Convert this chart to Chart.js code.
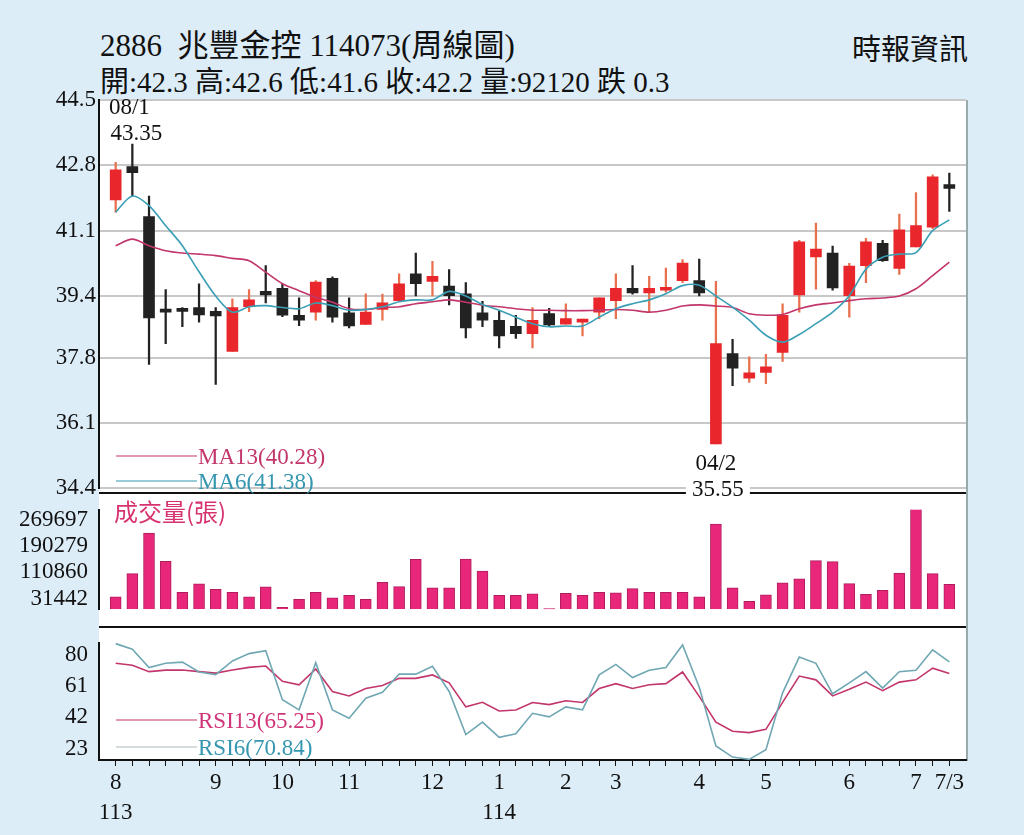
<!DOCTYPE html>
<html><head><meta charset="utf-8">
<script src="https://cdn.jsdelivr.net/npm/chart.js@4.4.1/dist/chart.umd.min.js"></script>
<style>
html,body{margin:0;padding:0;width:1024px;height:835px;overflow:hidden;background:#dcedf8;font-family:"Liberation Serif","Noto Sans CJK TC",serif;}
.t{position:absolute;color:#111;white-space:nowrap;}
canvas{position:absolute;left:0;}
#plotbg{position:absolute;left:99px;top:100px;width:867px;height:660px;background:#fff;border-right:2px solid #9aa;border-top:1px solid #bbb;}
</style></head><body>
<div class="t" style="left:100px;top:20px;font-size:31px;">2886&nbsp; 兆豐金控 114073(周線圖)</div>
<div class="t" style="left:100px;top:58px;font-size:29px;">開:42.3 高:42.6 低:41.6 收:42.2 量:92120 跌 0.3</div>
<div class="t" style="right:56px;top:26px;font-size:29px;">時報資訊</div>
<div id="plotbg"></div>
<canvas id="cv" width="1024" height="133" style="top:493px"></canvas>
<canvas id="cr" width="1024" height="209" style="top:626px"></canvas>
<canvas id="cp" width="1024" height="505" style="top:0"></canvas>
<script>
const opens  =[41.9,42.77,41.47,39.05,39.08,39.1,39.0,37.96,39.12,39.52,39.6,38.9,38.98,39.86,38.96,38.66,39.05,39.28,39.98,39.78,39.66,39.46,38.96,38.77,38.61,38.42,38.94,38.67,38.72,38.98,39.28,39.6,39.48,39.55,39.8,39.8,35.55,37.9,37.26,37.41,37.93,39.43,40.42,40.52,39.41,40.19,40.77,40.12,40.68,41.19,42.3];
const closes =[42.68,42.61,38.83,38.98,39.0,38.91,38.88,39.1,39.3,39.43,38.9,38.77,39.76,38.85,38.62,38.98,39.22,39.72,39.72,39.91,39.41,38.57,38.77,38.36,38.42,38.77,38.65,38.81,38.77,39.35,39.6,39.48,39.6,39.59,40.26,39.48,38.16,37.52,37.4,37.56,38.9,40.81,40.62,39.61,40.18,40.81,40.32,41.12,41.23,42.5,42.2];
const highs  =[42.88,43.35,42.0,39.57,39.1,39.72,39.1,39.33,39.57,40.19,39.72,39.35,39.8,39.9,39.35,39.46,39.45,39.98,40.52,40.3,40.09,39.75,39.26,39.0,38.9,39.1,39.08,39.2,38.8,39.35,39.98,40.19,39.91,40.13,40.35,40.36,39.78,38.27,37.82,37.88,39.2,40.85,41.3,40.7,40.25,40.9,40.85,41.53,42.09,42.55,42.6];
const lows   =[41.58,42.0,37.62,38.16,38.6,38.72,37.1,37.96,38.99,39.22,38.86,38.63,38.77,38.72,38.57,38.66,38.77,39.25,39.4,39.4,39.17,38.31,38.6,38.05,38.3,38.05,38.6,38.67,38.36,38.81,38.81,39.45,38.98,39.5,39.75,39.4,35.55,37.07,37.15,37.12,37.7,38.98,39.58,39.55,38.85,39.75,40.3,39.96,40.68,41.15,41.6];
const ma6  =[41.58,42.0,41.75,41.23,40.71,40.03,39.4,38.98,39.12,39.15,39.1,39.07,39.22,39.15,39.03,39.05,39.12,39.25,39.3,39.3,39.52,39.4,39.18,39.03,38.85,38.68,38.6,38.62,38.62,38.85,39.07,39.2,39.3,39.46,39.67,39.68,39.4,39.11,38.77,38.38,38.2,38.4,38.68,38.98,39.41,40.1,40.41,40.49,40.53,41.1,41.38];
const ma13 =[40.71,40.88,40.71,40.58,40.52,40.49,40.45,40.38,40.32,40.02,39.72,39.54,39.37,39.24,39.07,39.05,39.1,39.12,39.2,39.25,39.3,39.24,39.16,39.12,39.07,39.03,39.03,39.02,39.02,39.03,39.05,39.03,38.98,39.03,39.14,39.17,39.14,39.1,38.94,38.9,38.92,39.07,39.17,39.22,39.28,39.33,39.35,39.4,39.59,39.93,40.28];
const volumes=[37000,107000,229000,144000,51000,76000,60000,51000,37000,67000,6000,30000,51000,34000,42000,30000,81000,68000,150000,64000,64000,151000,115000,42000,42000,46000,2000,48000,42000,51000,49000,62000,51000,51000,51000,37000,256000,64000,24000,43000,79000,91000,146000,143000,77000,45000,57000,109000,305000,107000,75000];
const rsi13=[75.0,73.8,69.9,70.8,70.9,69.9,69.0,70.9,72.5,73.3,64.0,61.9,71.5,57.8,55.1,59.6,61.4,65.8,65.8,67.9,63.1,48.4,51.2,45.9,46.5,51.1,49.8,52.1,51.1,59.6,62.6,59.6,61.9,62.6,69.7,54.8,39.1,33.5,32.7,34.7,51.2,67.2,64.9,55.1,59.1,63.5,58.3,63.5,64.9,72.0,68.8];
const rsi6 =[87.0,83.6,72.4,75.0,75.7,69.7,68.1,76.4,80.9,82.7,52.8,46.6,75.4,46.6,41.5,53.7,57.3,68.4,68.4,73.2,57.8,31.5,39.1,29.8,32.0,44.5,42.3,48.4,46.6,67.9,74.3,66.3,70.8,72.4,86.2,60.4,24.6,17.8,16.4,22.3,57.0,78.8,75.0,56.4,63.1,69.9,59.9,69.9,70.8,83.2,75.9];
const priceTicks=[34.4,36.1,37.8,39.4,41.1,42.8,44.5];
const volTicks=[31442,110860,190279,269697];
const rsiTicks=[23,42,61,80];
const xLabels={0:['8','113'],6:'9',10:'10',14:'11',19:'12',23:['1','114'],27:'2',30:'3',35:'4',39:'5',44:'6',48:'7',50:'7/3'};
const highLabel={i:1,date:'08/1',val:'43.35'};
const lowLabel={i:36,date:'04/2',val:'35.55'};
const legendPrice=[['MA13(40.28)','#c2366b','#c2366b'],['MA6(41.38)','#3596b0','#3596b0']];
const legendRsi=[['RSI13(65.25)','#c2366b','#d0357a'],['RSI6(70.84)','#aab8bc','#3596b0']];

const RED='#e8262b', BLK='#222', PINK='#e8267a';
const idx=opens.map((_,i)=>i);
const up=i=>closes[i]>=opens[i];
const FONT={family:'"Liberation Serif","Noto Sans CJK TC",serif',size:23};
function yAxis(extra){return Object.assign({position:'left',border:{color:'#111',width:2},
  afterFit:s=>{s.width=99;}},extra);}
const xHidden={type:'linear',min:-1,max:51,display:false,offset:false,grid:{offset:false}};
Chart.defaults.animation=false;

// price
new Chart(document.getElementById('cp'),{type:'bar',
 data:{datasets:[
  {data:idx.map(i=>({x:i,y:[lows[i],highs[i]]})),backgroundColor:idx.map(i=>up(i)?'#e8704e':BLK),barThickness:1.6,grouped:false,order:3},
  {data:idx.map(i=>({x:i,y:[opens[i],closes[i]===opens[i]?closes[i]+0.03:closes[i]]})),backgroundColor:idx.map(i=>up(i)?RED:BLK),barThickness:11,grouped:false,order:2,minBarLength:3},
  {type:'line',data:idx.map(i=>({x:i,y:ma13[i]})),borderColor:'#c2366b',borderWidth:1.6,pointRadius:0,tension:0.3,order:1},
  {type:'line',data:idx.map(i=>({x:i,y:ma6[i]})),borderColor:'#3a9fb5',borderWidth:1.6,pointRadius:0,tension:0.3,order:0}
 ]},
 options:{responsive:false,layout:{padding:{top:100,right:58,left:0,bottom:15}},
  plugins:{legend:{display:false},tooltip:{enabled:false}},
  scales:{x:xHidden,y:yAxis({min:34.4,max:44.5,
    afterBuildTicks:s=>{s.ticks=priceTicks.map(v=>({value:v}));},
    ticks:{color:'#111',font:FONT,padding:3,callback:v=>v.toFixed(1)},
    grid:{color:'#c8c8c8',lineWidth:2,drawTicks:false}})}},
 plugins:[{id:'ann',afterDatasetsDraw(c){const g=c.ctx,x=c.scales.x;
   g.save();g.strokeStyle='#111';g.lineWidth=2;g.beginPath();g.moveTo(99,493);g.lineTo(966,493);g.stroke();
   g.font='23px "Liberation Serif",serif';g.fillStyle='#111';g.textAlign='center';
   let px=x.getPixelForValue(highLabel.i);g.fillText(highLabel.date,px-3,114);g.fillText(highLabel.val,px+4,140);
   px=x.getPixelForValue(lowLabel.i);g.fillStyle='#fff';g.fillRect(px-30,478,64,20);g.fillStyle='#111';
   g.fillText(lowLabel.date,px,470);g.fillText(lowLabel.val,px+2,496);
   g.textAlign='left';legendPrice.forEach((l,k)=>{const yy=456+k*25;g.strokeStyle=l[1];g.lineWidth=1.2;
     g.beginPath();g.moveTo(116,yy);g.lineTo(197,yy);g.stroke();g.fillStyle=l[2];g.fillText(l[0],198,yy+8);});
   g.restore();}}]
});

// volume
new Chart(document.getElementById('cv'),{type:'bar',
 data:{datasets:[{data:idx.map(i=>({x:i,y:volumes[i]})),backgroundColor:PINK,borderColor:'#b01c5c',borderWidth:1,barThickness:11}]},
 options:{responsive:false,layout:{padding:{top:0,right:58,left:0,bottom:0}},
  plugins:{legend:{display:false},tooltip:{enabled:false}},
  scales:{x:xHidden,y:yAxis({min:0,max:299000,
    afterBuildTicks:s=>{s.ticks=volTicks.map(v=>({value:v}));},
    ticks:{color:'#111',font:FONT,padding:3,callback:v=>String(v)},
    grid:{display:false}})}},
 plugins:[{id:'vl',afterDraw(c){const g=c.ctx;g.save();g.font='24px "Noto Sans CJK TC",sans-serif';g.fillStyle='#d6326f';
   g.fillText('成交量(張)',114,28);g.restore();}}]
});

// rsi
new Chart(document.getElementById('cr'),{type:'line',
 data:{datasets:[
  {data:idx.map(i=>({x:i,y:rsi6[i]})),borderColor:'#6fa7b3',borderWidth:1.6,pointRadius:0,tension:0},
  {data:idx.map(i=>({x:i,y:rsi13[i]})),borderColor:'#c2366b',borderWidth:1.6,pointRadius:0,tension:0}
 ]},
 options:{responsive:false,layout:{padding:{top:0,right:58,left:0,bottom:0}},
  plugins:{legend:{display:false},tooltip:{enabled:false}},
  scales:{x:{type:'linear',min:-1,max:51,offset:false,border:{color:'#111',width:2},
    afterBuildTicks:s=>{s.ticks=idx.map(v=>({value:v}));},
    afterFit:s=>{s.height=75;},
    grid:{drawOnChartArea:false,drawTicks:true,tickLength:6,color:'#111'},
    ticks:{autoSkip:false,maxRotation:0,color:'#111',font:{family:FONT.family,size:23,lineHeight:1.3},padding:2,callback:v=>xLabels[v]||''}},
   y:yAxis({min:16,max:87.5,
    afterBuildTicks:s=>{s.ticks=rsiTicks.map(v=>({value:v}));},
    ticks:{color:'#111',font:FONT,padding:3},
    grid:{display:false}})}},
 plugins:[{id:'rl',afterDraw(c){const g=c.ctx;g.save();g.font='23px "Liberation Serif",serif';
   legendRsi.forEach((l,k)=>{const yy=94+k*27;g.strokeStyle=l[1];g.lineWidth=1.2;g.beginPath();g.moveTo(116,yy);g.lineTo(197,yy);g.stroke();
   g.fillStyle=l[2];g.fillText(l[0],198,yy+8);});
   g.strokeStyle='#111';g.lineWidth=2;g.beginPath();g.moveTo(99,1);g.lineTo(966,1);g.stroke();g.restore();}}]
});
</script></body></html>
